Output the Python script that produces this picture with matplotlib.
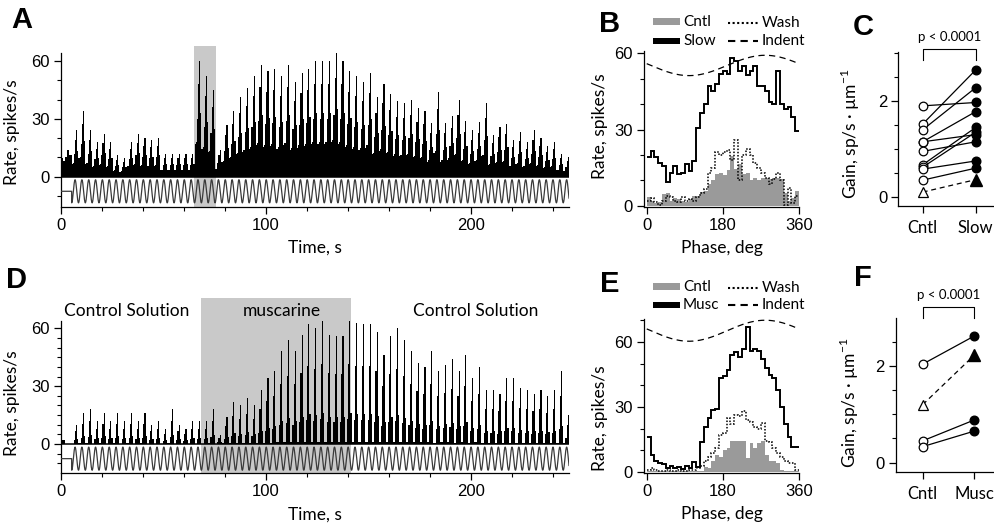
"""
Six-panel figure: firing-rate time courses during sinusoidal indentation
(A, D), cycle-averaged phase histograms (B, E) and paired gain plots (C, F).
"""
import numpy as np
import matplotlib
matplotlib.use("Agg")
import matplotlib.pyplot as plt
from matplotlib.ticker import MultipleLocator, FixedLocator
from matplotlib.patches import Rectangle
from matplotlib.lines import Line2D

W, H, DPI = 994, 527, 100
NUM = "Liberation Sans"      # digits / letters (Helvetica-like)
TXT = "Lato"                 # word labels (Myriad-like)

plt.rcParams.update({
    "font.family": NUM,
    "font.size": 12,
    "axes.linewidth": 0.9,
    "mathtext.fontset": "custom",
    "mathtext.rm": TXT,
})

GRAY_BAR = "#9a9a9a"
SHADE = "#c9c9c9"
STIM_COL = "#3a3a3a"

# --- time courses: 0.3 Hz indentation -----------------------------------------
STIM_ON = 5.2          # s, onset of the sinusoid
PERIOD = 3.333         # s
N_CYC = 73
T_MAX = 248.0
STIM_MID, STIM_AMP = -7.6, 6.0

PRE_A = [9.5, 8, 10, 14, 11]                  # spontaneous rate before onset
PRE_EDGES = [0, 1, 2, 3, 4, STIM_ON]
# peak rate of each stimulus cycle (spikes/s)
PEAK_A = [24, 34, 24, 18, 22, 18, 11, 9.5, 18, 22, 20, 19, 20, 12, 12, 12,
          12, 12,
          60, 52, 45,
          14, 27, 34, 41.5, 46, 52, 58, 55, 56, 52, 58, 49, 54, 56, 60, 60,
          60, 64, 60, 55,
          52, 49, 54, 41.5, 48, 43, 39, 38, 40, 35.5, 34, 28, 44, 28, 31.5,
          40, 29, 24, 28.5, 38, 21.5, 25.5, 27.5, 19, 23, 18, 24, 20, 16, 18,
          12, 10]
# within-cycle profile (6 bins per cycle, relative to the cycle peak)
TEMPLATE_A = [0.28, 0.3, 0.5, 0.8, 1.0, 0.55]
SHADE_A = (65.0, 75.6)

PRE_D = [2, 2, 0, 0, 0]
PEAK_D = [10, 16, 18, 12, 16, 12, 16, 12, 16, 12, 16, 10, 12, 8, 18, 10, 8,
          12, 12, 12,
          18, 4.7, 14, 22, 20, 24, 20, 28, 34, 38, 48, 54, 48, 56.6, 62, 60,
          64, 56.6, 56, 56, 64, 62.6,
          62, 62, 58, 46, 56, 60, 54, 48, 42, 40, 48, 38, 41, 44, 38, 46, 34,
          40, 28, 28, 26, 34, 34, 29,
          28, 26, 28, 25, 28, 38, 15]
TEMPLATE_D = [0.02, 0.02, 0.2, 0.65, 1.0, 0.25]
SHADE_D = (68.3, 141.8)
D_TEXTS = [("Control Solution", 32.0), ("muscarine", 107.6),
           ("Control Solution", 202.5)]

# --- phase histograms (40 bins of 9 deg) ---------------------------------------
PHASE_EDGES = np.arange(0, 361, 9)
CNTL_B = [3.5, 2, 1, 1.5, 4.5, 5, 2, 3, 2.5, 2, 1.5, 2.5, 4, 4, 5.5, 6, 8.5,
          10, 12.5, 13, 12, 14, 19.5, 14.5, 16.5, 12.5, 13, 10, 11, 10, 11,
          11, 10.5, 11, 11, 10.5, 5, 2, 3, 6]
SLOW_B = [19, 21.5, 19, 17, 15.5, 9.5, 13, 15.5, 12.5, 13, 16.5, 13.5, 17.5,
          30.5, 36.5, 40, 47, 45, 48, 52, 53, 52, 58, 57, 53, 55, 51.5, 53,
          55, 47, 47, 45, 41, 40, 53, 40, 38, 39, 35, 29.5]
WASH_B = [2, 3, 1.5, 0.5, 2, 4, 3.5, 2, 1.5, 3.5, 2, 2.5, 2, 3.5, 5, 6.5, 13,
          15, 21, 20, 21, 22, 18, 26, 10, 20, 22.5, 20, 17, 15, 13, 11, 8.5,
          10.5, 13, 10, 0.5, 7, 1, 4]
INDENT_B = (55.2, 4.0, 10.0)     # mean, amplitude, phase offset (deg)

CNTL_E = [0.5, 0.5, 0.5, 0.5, 0.5, 0.5, 0.5, 0.5, 0.5, 0.5, 0.5, 0.5, 0.5,
          0.5, 0.5, 2.5, 2, 5, 8, 7, 10, 11, 14.5, 14.5, 14.5, 14.5, 6.5,
          13.5, 11, 13.5, 14.5, 8, 5, 5, 4, 1, 0.5, 0.5, 0.5, 0.5]
MUSC_E = [16, 8, 5, 4, 3.5, 2, 3, 2, 2.5, 1.5, 3, 2, 4.5, 2.5, 14, 21, 25,
          28.5, 29, 43.5, 44.5, 47, 54, 55.5, 53, 57, 67, 56, 57, 56, 52, 48,
          45, 43.5, 38, 30, 22, 16, 11.5, 11.5]
WASH_E = [1, 2, 1, 0.5, 0.5, 1, 0.5, 0.5, 1, 0.5, 0.5, 1, 1, 2, 3, 5, 7, 9,
          11, 17, 18, 25, 22, 26.5, 26, 28, 24, 23, 21, 20, 22.5, 14.5, 14,
          11, 9, 7, 5, 4, 4, 1]
INDENT_E = (65.2, 4.85, 10.0)

# --- gains (sp/s per um) -------------------------------------------------------
GAIN_C_CNTL = [1.90, 1.52, 1.40, 1.15, 1.15, 0.95, 0.67, 0.62, 0.58, 0.35]
GAIN_C_SLOW = [1.97, 2.65, 2.28, 1.78, 1.30, 1.15, 1.45, 1.35, 0.75, 0.60]
TRI_C = (0.10, 0.36)
GAIN_F_CNTL = [2.04, 0.45, 0.33]
GAIN_F_MUSC = [2.62, 0.88, 0.65]
TRI_F = (1.20, 2.22)


def axes_px(fig, left, top, right, bottom):
    return fig.add_axes([left / W, 1 - bottom / H, (right - left) / W,
                         (bottom - top) / H])


def style_ticks(ax):
    ax.tick_params(which="major", direction="out", length=5, width=0.9,
                   labelsize=12, pad=3)
    ax.tick_params(which="minor", direction="out", length=3, width=0.8)
    ax.spines[["top", "right"]].set_visible(False)


def time_panel(fig, top, bottom, ylim, pre, peaks, template, shade, yminor):
    ax = axes_px(fig, 61, top, 569, bottom)
    ax.axvspan(*shade, color=SHADE, lw=0, zorder=0)
    ax.stairs(pre, PRE_EDGES, fill=True, color="k", lw=0, zorder=2)
    nb = len(template)
    edges = STIM_ON + np.arange(N_CYC * nb + 1) * PERIOD / nb
    vals = np.outer(peaks, template).ravel()
    ax.stairs(vals, edges, fill=True, color="k", lw=0.6, zorder=2)
    ax.axhline(0, color="k", lw=1.1, zorder=3)
    t = np.linspace(STIM_ON, STIM_ON + N_CYC * PERIOD, N_CYC * 40)
    stim = STIM_MID - STIM_AMP * np.cos(2 * np.pi * (t - STIM_ON) / PERIOD)
    ax.plot(np.r_[0, STIM_ON, t], np.r_[STIM_MID, STIM_MID, stim],
            color=STIM_COL, lw=0.9, zorder=3)
    ax.set_xlim(0, T_MAX)
    ax.set_ylim(*ylim)
    ax.spines["left"].set_bounds(ylim[0], 64)
    ax.set_yticks([0, 30, 60])
    ax.yaxis.set_minor_locator(FixedLocator(np.arange(-10, 61, yminor)))
    ax.set_xticks([0, 100, 200])
    ax.xaxis.set_minor_locator(MultipleLocator(20))
    style_ticks(ax)
    ax.set_xlabel("Time, s", fontfamily=TXT, fontsize=12.5, labelpad=5)
    ax.set_ylabel("Rate, spikes/s", fontfamily=TXT, fontsize=12.5)
    return ax


def phase_panel(fig, top, bottom, ylim, cntl, main, wash, indent):
    ax = axes_px(fig, 644.2, top, 799, bottom)
    ax.stairs(cntl, PHASE_EDGES, fill=True, color=GRAY_BAR, lw=0, zorder=1)
    ax.stairs(wash, PHASE_EDGES, baseline=None, color="k", lw=1.1,
              ls=(0, (1, 1.1)), zorder=2)
    ax.stairs(main, PHASE_EDGES, baseline=None, color="k", lw=1.4, zorder=3)
    th = np.linspace(0, 360, 181)
    mean, amp, off = indent
    ax.plot(th, mean - amp * np.sin(np.radians(th - off)), color="k", lw=0.9,
            dashes=(5, 3.5), zorder=3)
    ax.set_xlim(-6, 360)
    ax.set_ylim(*ylim)
    ax.set_xticks([0, 180, 360])
    ax.set_yticks([0, 30, 60])
    ax.yaxis.set_minor_locator(MultipleLocator(10))
    style_ticks(ax)
    ax.set_xlabel("Phase, deg", fontfamily=TXT, fontsize=12.5, labelpad=5)
    ax.set_ylabel("Rate, spikes/s", fontfamily=TXT, fontsize=12.5)
    return ax


def phase_legend(fig, y1, y2, label2):
    def px(x, y):
        return x / W, 1 - y / H
    for y, col, lab in ((y1, GRAY_BAR, "Cntl"), (y2, "k", label2)):
        x0, y0 = px(652.7, y + 3.4)
        fig.add_artist(Rectangle((x0, y0), 27.3 / W, 6.8 / H, color=col,
                                 transform=fig.transFigure, lw=0))
        fig.text(683 / W, 1 - y / H, lab, fontfamily=TXT, fontsize=11,
                 va="center", ha="left")
    for y, st, lab in ((y1 + 1, (0, (1, 1.2)), "Wash"),
                       (y2, (0, (3.5, 2.5)), "Indent")):
        fig.add_artist(Line2D([728 / W, 758 / W], [1 - y / H, 1 - y / H],
                              transform=fig.transFigure, color="k",
                              lw=1.5, ls=st))
        fig.text(761.7 / W, 1 - y / H, lab, fontfamily=TXT, fontsize=11,
                 va="center", ha="left")


def gain_panel(fig, left, top, bottom, xr, ylim, cntl, treat, tri, labels,
               brk):
    ax = axes_px(fig, left, top, 1007, bottom)
    for a, b in zip(cntl, treat):
        ax.plot([0, 1], [a, b], color="k", lw=0.9, zorder=1)
    ax.plot([0, 1], tri, color="k", lw=0.9, dashes=(4, 3), zorder=1)
    ax.plot(np.zeros(len(cntl)), cntl, "o", ms=6.2, mfc="white", mec="k",
            mew=0.9, zorder=3, clip_on=False)
    ax.plot(np.ones(len(treat)), treat, "o", ms=6.2, mfc="k", mec="k",
            zorder=3, clip_on=False)
    ax.plot([0], [tri[0]], "^", ms=7.5, mfc="white", mec="k", mew=0.9,
            zorder=3, clip_on=False)
    ax.plot([1], [tri[1]], "^", ms=8, mfc="k", mec="k", zorder=3,
            clip_on=False)
    lo, hi, ty = brk
    ax.plot([0, 0, 1, 1], [lo, hi, hi, lo], color="k", lw=0.8, clip_on=False)
    ax.text(0.5, ty, "p < 0.0001", ha="center", va="center", fontsize=9.5,
            fontfamily=TXT)
    ax.set_xlim(*xr)
    ax.set_ylim(*ylim)
    ax.set_xticks([0, 1])
    ax.set_xticklabels(labels, fontfamily=TXT, fontsize=13)
    ax.set_yticks([0, 2])
    ax.yaxis.set_minor_locator(MultipleLocator(0.5))
    style_ticks(ax)
    ax.tick_params(axis="x", pad=5)
    ax.set_ylabel("Gain, sp/s · µm$^{\\mathregular{-1}}$", fontfamily=TXT,
                  fontsize=12.5)
    return ax


def main():
    fig = plt.figure(figsize=(W / DPI, H / DPI), dpi=DPI)

    axA = time_panel(fig, 45.6, 206.7, (-15.6, 68), PRE_A, PEAK_A,
                     TEMPLATE_A, SHADE_A, 10)
    axA.yaxis.set_label_coords(-0.081, 0.464)
    axD = time_panel(fig, 297.5, 473.3, (-15.2, 76), PRE_D, PEAK_D,
                     TEMPLATE_D, SHADE_D, 5)
    axD.yaxis.set_label_coords(-0.081, 0.40)
    for txt, t in D_TEXTS:
        axD.text(t, 69, txt, ha="center", va="center", fontfamily=TXT,
                 fontsize=12.5, zorder=4)

    axB = phase_panel(fig, 50.7, 207.3, (-0.6, 61), CNTL_B, SLOW_B, WASH_B,
                      INDENT_B)
    axB.yaxis.set_label_coords(-0.235, 0.52)
    phase_legend(fig, 21.7, 41.0, "Slow")
    axE = phase_panel(fig, 319.25, 473.3, (-0.6, 70.5), CNTL_E, MUSC_E,
                      WASH_E, INDENT_E)
    axE.yaxis.set_label_coords(-0.235, 0.36)
    phase_legend(fig, 286.7, 305.0, "Musc")

    axC = gain_panel(fig, 898.3, 51.7, 206.0, (-0.46, 1.59), (-0.19, 3.03),
                     GAIN_C_CNTL, GAIN_C_SLOW, TRI_C, ["Cntl", "Slow"],
                     (2.86, 3.08, 3.34))
    axC.yaxis.set_label_coords(-0.33, 0.47)
    axF = gain_panel(fig, 895.7, 318.3, 471.7, (-0.526, 1.643),
                     (-0.19, 2.99), GAIN_F_CNTL, GAIN_F_MUSC, TRI_F,
                     ["Cntl", "Musc"], (2.99, 3.23, 3.47))
    axF.yaxis.set_label_coords(-0.31, 0.45)

    for lab, x, y in (("A", 22, 20), ("B", 610, 24), ("C", 863, 27),
                      ("D", 17, 280), ("E", 610, 284), ("F", 863, 278)):
        fig.text(x / W, 1 - y / H, lab, fontsize=21, fontweight="bold",
                 ha="center", va="center")

    fig.savefig("out.png", dpi=DPI, facecolor="white")


if __name__ == "__main__":
    main()
